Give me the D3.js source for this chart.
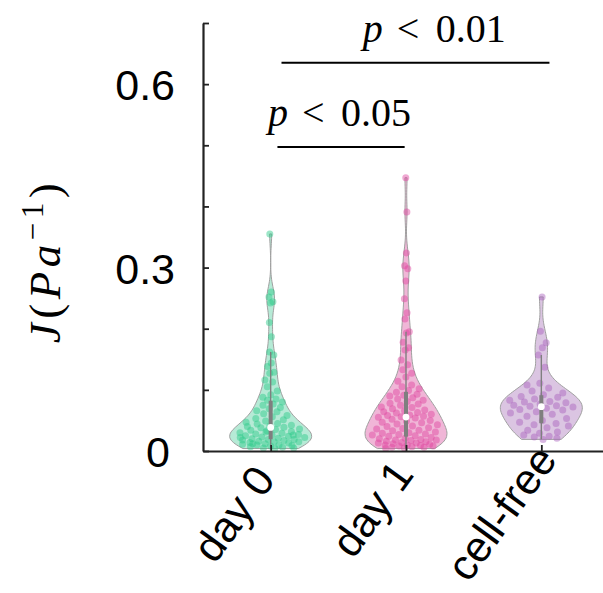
<!DOCTYPE html>
<html>
<head>
<meta charset="utf-8">
<script src="https://cdn.jsdelivr.net/npm/d3@7"></script>
<style>
  body { margin: 0; background: #fff; }
  svg { display: block; }
  .tick text { font-family: "Liberation Sans", Arial, sans-serif; }
</style>
</head>
<body>
<div id="chart"></div>
<script>
// groups and their compliance values J (1/Pa)
var categories = ["day 0", "day 1", "cell-free"];

var day0 = [
    0.355, 0.260, 0.252, 0.244, 0.242, 0.210, 0.187, 0.162, 0.157, 0.144,
    0.138, 0.129, 0.127, 0.116, 0.113, 0.105, 0.098, 0.092, 0.088, 0.085,
    0.083, 0.080, 0.077, 0.075, 0.071, 0.069, 0.066, 0.064, 0.061, 0.058,
    0.056, 0.053, 0.051, 0.049, 0.047, 0.045, 0.044, 0.042, 0.041, 0.040,
    0.039, 0.038, 0.036, 0.035, 0.034, 0.032, 0.031, 0.030, 0.029, 0.028,
    0.027, 0.026, 0.025, 0.024, 0.023, 0.022, 0.021, 0.020, 0.019, 0.019,
    0.018, 0.017, 0.016, 0.015, 0.015, 0.014, 0.013, 0.012, 0.011, 0.010,
    0.010, 0.009, 0.008, 0.007, 0.006, 0.005, 0.005, 0.004, 0.012, 0.026,
    0.033, 0.022
];

var day1 = [
    0.447, 0.391, 0.324, 0.303, 0.298, 0.278, 0.249, 0.226, 0.216, 0.195,
    0.193, 0.178, 0.169, 0.165, 0.149, 0.141, 0.133, 0.127, 0.121, 0.114,
    0.108, 0.105, 0.102, 0.099,
    0.096, 0.093, 0.091, 0.090, 0.087, 0.085, 0.083, 0.081, 0.078, 0.077,
    0.075, 0.072, 0.071, 0.069, 0.067, 0.066, 0.064, 0.063, 0.062, 0.060,
    0.059, 0.058, 0.057, 0.056,
    0.055, 0.054, 0.052, 0.050, 0.049, 0.047, 0.046, 0.044, 0.043, 0.041,
    0.040, 0.038, 0.037, 0.036, 0.034, 0.033, 0.031, 0.030, 0.029, 0.028,
    0.027, 0.026, 0.025, 0.024,
    0.022, 0.021, 0.020, 0.019, 0.018, 0.018, 0.017, 0.016, 0.015, 0.014,
    0.013, 0.013, 0.012, 0.011, 0.010, 0.010, 0.009, 0.008, 0.008, 0.007,
    0.006, 0.006, 0.005, 0.004
];

var cellFree = [
    0.252, 0.196, 0.177, 0.169, 0.157, 0.137, 0.111, 0.108, 0.103, 0.098,
    0.095, 0.092, 0.089, 0.088, 0.085, 0.083, 0.081, 0.080, 0.079, 0.077,
    0.075, 0.074, 0.073, 0.072, 0.070, 0.068, 0.067, 0.064, 0.062, 0.060,
    0.057, 0.053, 0.050, 0.047, 0.045, 0.043, 0.041, 0.038, 0.034, 0.031,
    0.029, 0.026, 0.024, 0.023, 0.021, 0.019
];

var yTicks = [0, 0.1, 0.2, 0.3, 0.4, 0.5, 0.6, 0.7];
var yTickLabels = {"0": "0", "0.3": "0.3", "0.6": "0.6"};

// significance brackets (positions in category index units)
var sigLabels = ["0.05", "0.01"];
var sigFrom = [0.05, 0.08];
var sigTo = [0.99, 2.06];
var sigLevel = [0.497, 0.635];
var sigTextAt = [-0.02, 0.68];

var groups = [day0, day1, cellFree];
var pointColors = ["#2fc98b", "#df479f", "#a964be"];
var bodyColors = ["#b6ead6", "#f0b6d7", "#dbc5e2"];
var bwAdjust = [0.6, 0.55, 0.85];

// where each rotated label ends, relative to its tick
var labelShift = [[6, 29], [9, 24], [17, 9]];

var svgWidth = 603;
var svgHeight = 593;

var svg = d3.select("#chart")
    .append("svg")
    .attr("width", svgWidth)
    .attr("height", svgHeight);

var x = d3.scalePoint()
    .domain(categories)
    .range([203, 609])
    .padding(0.5);

var y = d3.scaleLinear()
    .domain([0, 0.7])
    .range([451, 23]);

var xIdx = d3.scaleLinear()
    .domain([0, 1])
    .range([x(categories[0]), x(categories[1])]);

// gaussian kde, scott bandwidth times an adjust factor, cut at the data range
function kde(values, adjust) {
    var n = values.length;
    var sd = d3.deviation(values);
    var bw = sd * Math.pow(n, -0.2) * adjust;
    var lo = d3.min(values), hi = d3.max(values);
    var steps = 90;
    var out = [];
    for (var i = 0; i <= steps; i++) {
        var v = lo + (hi - lo) * i / steps;
        var s = 0;
        values.forEach(function (d) {
            var z = (v - d) / bw;
            s += Math.exp(-0.5 * z * z);
        });
        out.push([v, s / (n * bw * Math.sqrt(2 * Math.PI))]);
    }
    return out;
}

function densityAt(curve, v) {
    for (var i = 1; i < curve.length; i++) {
        if (curve[i][0] >= v) {
            var a = curve[i - 1], b = curve[i];
            var t = (v - a[0]) / (b[0] - a[0] || 1);
            return a[1] + t * (b[1] - a[1]);
        }
    }
    return curve[curve.length - 1][1];
}

var halfWidth = 41;
var plot = svg.append("g");

groups.forEach(function (vals, gi) {
    var cx = x(categories[gi]);
    var curve = kde(vals, bwAdjust[gi]);
    var w = d3.scaleLinear()
        .domain([0, d3.max(curve, d => d[1])])
        .range([0, halfWidth]);

    var area = d3.area()
        .curve(d3.curveMonotoneY)
        .y(d => y(d[0]))
        .x0(d => cx - w(d[1]))
        .x1(d => cx + w(d[1]));

    plot.append("path")
        .datum(curve)
        .attr("d", area)
        .attr("fill", bodyColors[gi])
        .attr("stroke", "#a0a0a0")
        .attr("stroke-width", 1);

    // points spread inside the violin
    plot.append("g").selectAll("circle")
        .data(vals)
        .enter()
        .append("circle")
        .attr("cx", function (d, i) {
            var f = ((i * 0.6180339887 + 0.37 * gi) % 1) * 2 - 1;
            return cx + f * w(densityAt(curve, d)) * 0.85;
        })
        .attr("cy", d => y(d))
        .attr("r", 3.5)
        .attr("fill", pointColors[gi])
        .attr("fill-opacity", 0.47);

    // inner box
    var sorted = vals.slice().sort(d3.ascending);
    var q1 = d3.quantile(sorted, 0.25);
    var med = d3.quantile(sorted, 0.5);
    var q3 = d3.quantile(sorted, 0.75);
    var iqr = q3 - q1;
    var wHi = d3.max(sorted.filter(d => d <= q3 + 1.5 * iqr));
    var wLo = d3.min(sorted.filter(d => d >= q1 - 1.5 * iqr));

    plot.append("line")
        .attr("x1", cx).attr("x2", cx)
        .attr("y1", y(wLo)).attr("y2", y(wHi))
        .attr("stroke", "#7f7f7f")
        .attr("stroke-width", 1.4);

    plot.append("line")
        .attr("x1", cx).attr("x2", cx)
        .attr("y1", y(q1)).attr("y2", y(q3))
        .attr("stroke", "#7f7f7f")
        .attr("stroke-width", 4);

    plot.append("circle")
        .attr("cx", cx)
        .attr("cy", y(med))
        .attr("r", 3.4)
        .attr("fill", "#fff");
});

// axes
var yAxis = d3.axisLeft(y)
    .tickValues(yTicks)
    .tickSize(-6)
    .tickSizeOuter(0)
    .tickPadding(28)
    .tickFormat(d => yTickLabels[String(+d.toFixed(1))] || "");

var gy = svg.append("g")
    .attr("transform", "translate(203,0)")
    .call(yAxis);
gy.selectAll("text").attr("font-size", 43).attr("fill", "#000").attr("dy", "0.36em");
gy.selectAll("text").filter(d => d === 0).attr("dx", -5);

var xAxis = d3.axisBottom(x)
    .tickSize(-6)
    .tickSizeOuter(0)
    .tickFormat("");

var gx = svg.append("g")
    .attr("transform", "translate(0,451)")
    .call(xAxis);

[gx, gy].forEach(function (g) {
    g.select(".domain").attr("stroke", "#222").attr("stroke-width", 2.2);
    g.selectAll(".tick line").attr("stroke", "#222").attr("stroke-width", 1.8);
});

// rotated category labels
svg.append("g").selectAll("text")
    .data(categories)
    .enter()
    .append("text")
    .attr("transform", (d, i) =>
        `translate(${x(d) + labelShift[i][0]}, ${451 + labelShift[i][1]}) rotate(-54)`)
    .attr("text-anchor", "end")
    .attr("font-family", "Liberation Sans, Arial, sans-serif")
    .attr("font-size", 43)
    .attr("fill", "#000")
    .text(d => d);

// y axis title J(Pa^-1)
var yTitle = svg.append("text")
    .attr("transform", "translate(60, 261) rotate(-90)")
    .attr("text-anchor", "middle")
    .attr("font-family", "Liberation Serif, serif")
    .attr("font-size", 45)
    .attr("letter-spacing", 4.5)
    .attr("fill", "#000");
yTitle.append("tspan").attr("font-style", "italic").text("J");
yTitle.append("tspan").text("(");
yTitle.append("tspan").attr("font-style", "italic").text("Pa");
yTitle.append("tspan").attr("font-size", 31).attr("dy", -17).text("\u22121");
yTitle.append("tspan").attr("dy", 17).text(")");

// significance brackets
sigLabels.forEach(function (lab, i) {
    svg.append("line")
        .attr("x1", xIdx(sigFrom[i]))
        .attr("x2", xIdx(sigTo[i]))
        .attr("y1", y(sigLevel[i]))
        .attr("y2", y(sigLevel[i]))
        .attr("stroke", "#000")
        .attr("stroke-width", 2);

    var tx = xIdx(sigTextAt[i]);
    var ty = y(sigLevel[i]) - 21;
    var t = svg.append("text")
        .attr("y", ty)
        .attr("font-family", "Liberation Serif, serif")
        .attr("font-size", 40)
        .attr("fill", "#000");
    t.append("tspan").attr("x", tx).attr("font-style", "italic").text("p");
    t.append("tspan").attr("x", tx + 34).text("<");
    t.append("tspan").attr("x", tx + 73).text(lab);
});
</script>
</body>
</html>
